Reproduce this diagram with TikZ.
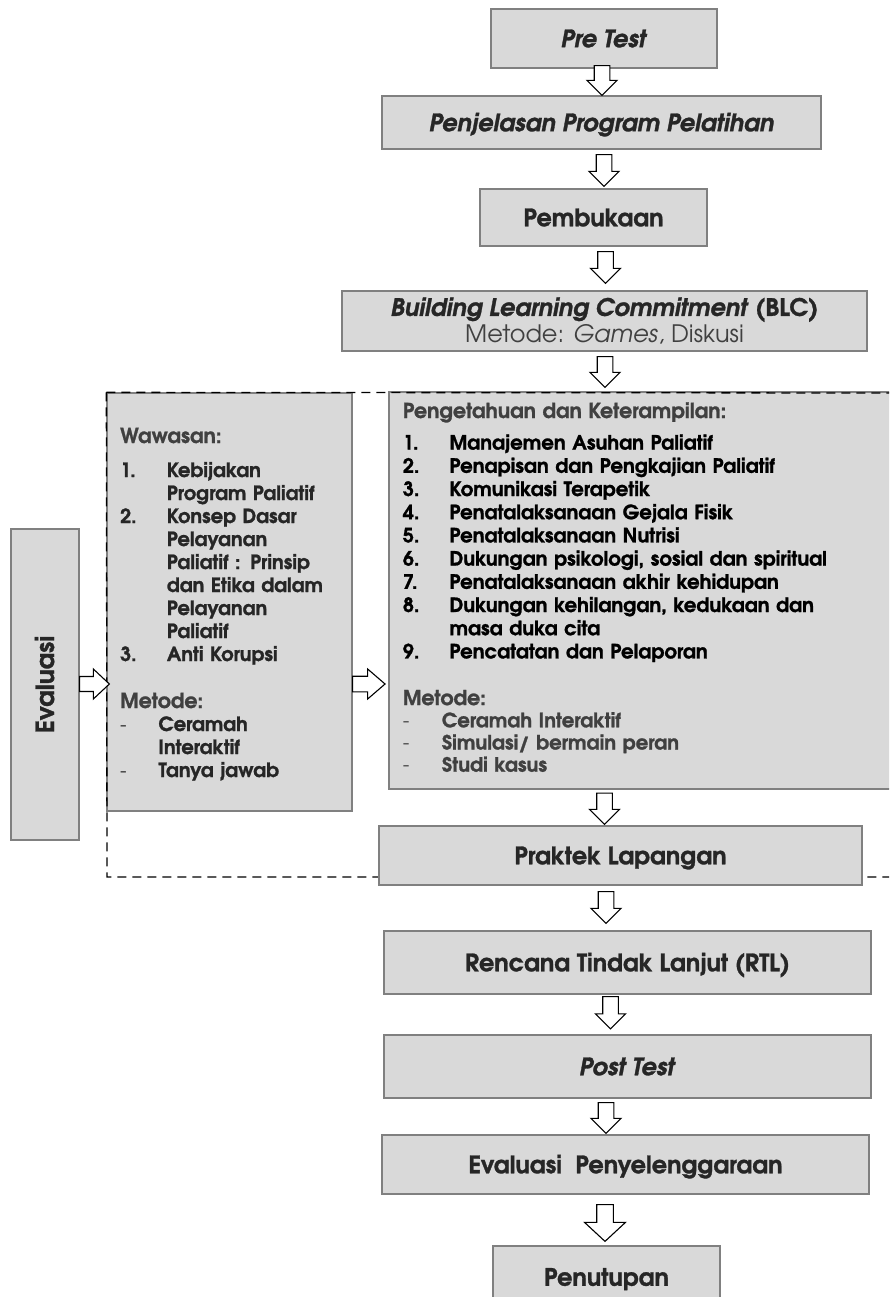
\documentclass[tikz,border=0pt]{standalone}
\usepackage{fontspec}
\setmainfont{texgyreadventor}[Extension=.otf, UprightFont=*-regular, BoldFont=*-bold, ItalicFont=*-italic, BoldItalicFont=*-bolditalic, BoldFeatures={FakeBold=1.2}, BoldItalicFeatures={FakeBold=1.2}]
\usetikzlibrary{calc}
\definecolor{boxfill}{HTML}{D9D9D9}
\definecolor{boxline}{HTML}{808080}
\definecolor{ink}{HTML}{262626}
\definecolor{soft}{HTML}{404040}
\tikzset{
  stemw/.store in=\arrsw, headw/.store in=\arrhw, headl/.store in=\arrhl,
  stemw=7.8pt, headw=15pt, headl=15pt,
  box/.style={draw=boxline, fill=boxfill, line width=1.3pt, inner sep=0pt, text=ink},
  ttl/.style={font=\bfseries\fontsize{24}{27}\selectfont, text height=17.5pt, text depth=0pt},
  blk/.style={draw=black, fill=white, line width=1.1pt, line join=miter},
  downarr/.style={blk, to path={let \p1=(\tikztostart), \p2=(\tikztotarget) in
      (\x1-\arrsw,\y1) -- (\x1+\arrsw,\y1) -- (\x1+\arrsw,\y2+\arrhl) -- (\x1+\arrhw,\y2+\arrhl)
      -- (\x1,\y2) -- (\x1-\arrhw,\y2+\arrhl) -- (\x1-\arrsw,\y2+\arrhl) -- cycle}},
  rightarr/.style={blk, to path={let \p1=(\tikztostart), \p2=(\tikztotarget) in
      (\x1,\y1+\arrsw) -- (\x2-\arrhl,\y1+\arrsw) -- (\x2-\arrhl,\y1+\arrhw) -- (\x2,\y1)
      -- (\x2-\arrhl,\y1-\arrhw) -- (\x2-\arrhl,\y1-\arrsw) -- (\x1,\y1-\arrsw) -- cycle}},
  frame/.style={draw=black, line width=1.3pt, dash pattern=on 9pt off 6pt},
  listtxt/.style={anchor=base west, align=left, inner sep=0pt},
}
\newcommand\hdr[1]{{\color{soft}\fontsize{20.5}{23}\selectfont #1}}
\begin{document}
\begin{tikzpicture}[x=1pt,y=-1pt]
\useasboundingbox (0,0) rectangle (889,1297);
\clip (0,0) rectangle (889,1297);

% boxes
\node[box, ttl, minimum width=226pt, minimum height=59pt] (pre) at (604,38.5) {\textit{Pre Test}};
\node[box, ttl, minimum width=439pt, minimum height=53pt] (penj) at (601.5,122.5) {\textit{Penjelasan Program Pelatihan}};
\node[box, ttl, minimum width=227pt, minimum height=57pt] (pemb) at (593.5,217.5) {Pembukaan};
\node[box, minimum width=525pt, minimum height=60pt, align=center, font=\fontsize{24}{27}\selectfont] (blc) at (604.5,321)
  {\textbf{\textit{Building Learning Commitment} (BLC)}\\ \textcolor{soft}{Metode: \textit{Games}, Diskusi}};
\node[box, minimum width=68pt, minimum height=311pt] (eval) at (45,684.5) {};
\node[rotate=90, text=ink, font=\bfseries\fontsize{25}{25}\selectfont, text height=18pt, text depth=0pt, inner sep=0pt] (evaltxt) at (eval.center) {Evaluasi};
\node[box, minimum width=245pt, minimum height=418pt] (waw) at (229.5,602) {};
\node[box, minimum width=511pt, minimum height=397pt] (pk) at (644.5,590.5) {};

\node[listtxt, text width=230pt, text=ink, font=\bfseries\fontsize{19.5}{23}\selectfont] (wawtxt) at (120,443) {%
\hdr{Wawasan:}\\[11pt]
\makebox[46.7pt][l]{1.}Kebijakan\\
\hspace*{46.7pt}Program Paliatif\\
\makebox[46.7pt][l]{2.}Konsep Dasar\\
\hspace*{46.7pt}Pelayanan\\
\hspace*{46.7pt}Paliatif : Prinsip\\
\hspace*{46.7pt}dan Etika dalam\\
\hspace*{46.7pt}Pelayanan\\
\hspace*{46.7pt}Paliatif\\
\makebox[46.7pt][l]{3.}Anti Korupsi\\[24pt]
\hdr{Metode:}\\
\makebox[38.3pt][l]{\mdseries -}Ceramah\\
\hspace*{38.3pt}Interaktif\\
\makebox[38.3pt][l]{\mdseries -}Tanya jawab};

\node[listtxt, text width=480pt, text=black, font=\bfseries\fontsize{19.7}{23.2}\selectfont] (pktxt) at (402.7,418) {%
\hdr{Pengetahuan dan Keterampilan:}\\[8.4pt]
\makebox[46.6pt][l]{1.}Manajemen Asuhan Paliatif\\
\makebox[46.6pt][l]{2.}Penapisan dan Pengkajian Paliatif\\
\makebox[46.6pt][l]{3.}Komunikasi Terapetik\\
\makebox[46.6pt][l]{4.}Penatalaksanaan Gejala Fisik\\
\makebox[46.6pt][l]{5.}Penatalaksanaan Nutrisi\\
\makebox[46.6pt][l]{6.}Dukungan psikologi, sosial dan spiritual\\
\makebox[46.6pt][l]{7.}Penatalaksanaan akhir kehidupan\\
\makebox[46.6pt][l]{8.}Dukungan kehilangan, kedukaan dan\\
\hspace*{46.6pt}masa duka cita\\
\makebox[46.6pt][l]{9.}Pencatatan dan Pelaporan\\[23.5pt]
\hdr{Metode:}\\[-1pt]
{\color{soft}\makebox[39pt][l]{\mdseries -}Ceramah Interaktif}\\[-1pt]
{\color{soft}\makebox[39pt][l]{\mdseries -}Simulasi/ bermain peran}\\[-1pt]
{\color{soft}\makebox[39pt][l]{\mdseries -}Studi kasus}};

% dashed frame
\draw[frame] (waw.north west) -- (893,393) (waw.north west) -- (107,877) -- (893,877);

\node[box, ttl, minimum width=483pt, minimum height=59pt] (prak) at (620.5,855.5) {Praktek Lapangan};
\node[box, ttl, minimum width=487pt, minimum height=63pt] (rtl) at (627.5,962.5) {Rencana Tindak Lanjut (RTL)};
\node[box, ttl, minimum width=487pt, minimum height=63pt] (post) at (627.5,1066.5) {\textit{Post Test}};
\node[box, ttl, minimum width=487pt, minimum height=59pt] (evp) at (625.5,1164.5) {Evaluasi\ \ Penyelenggaraan};
\node[box, ttl, minimum width=227pt, minimum height=62pt] (penut) at (606.5,1277) {Penutupan};

% block arrows
\draw[downarr] ([xshift=-2pt,yshift=3pt]pre.south) to (penj.north);
\draw[downarr] ([xshift=2.5pt,yshift=-5pt]penj.south) to ([yshift=2pt]pemb.north);
\draw[downarr] ([xshift=12pt,yshift=-5pt]pemb.south) to ([yshift=7pt]blc.north);
\draw[downarr] ([xshift=0.5pt,yshift=-5pt]blc.south) to ([yshift=4pt]pk.north);
\draw[downarr] ([xshift=-40pt,yshift=-3.5pt]pk.south) to ([yshift=1pt]prak.north);
\draw[downarr] ([xshift=-14.5pt,yshift=-6pt]prak.south) to ([yshift=7pt]rtl.north);
\draw[downarr] ([xshift=-17pt,yshift=-2pt]rtl.south) to ([yshift=5.5pt]post.north);
\draw[downarr] ([xshift=-21.5pt,yshift=-4pt]post.south) to ([yshift=1pt]evp.north);
\draw[downarr, stemw=8.3pt, headw=20.5pt, headl=19pt] ([xshift=-20.5pt,yshift=-10pt]evp.south) to ([yshift=4pt]penut.north);
\draw[rightarr, stemw=7.5pt, headl=16pt] ([yshift=0.5pt]eval.east) to ([xshift=3pt]waw.west);
\draw[rightarr, stemw=7.8pt, headl=17.4pt] ([yshift=-82pt]waw.east) to ([xshift=-3.3pt]pk.west);
\end{tikzpicture}
\end{document}
